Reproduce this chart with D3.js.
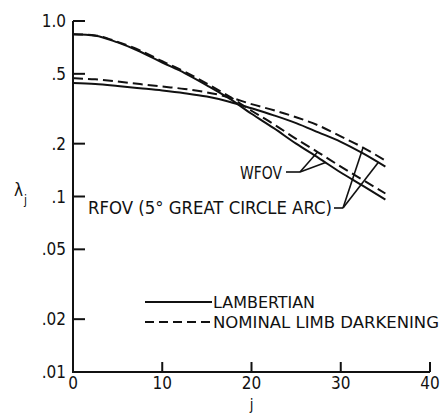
<!DOCTYPE html>
<html>
<head>
<meta charset="utf-8">
<script src="https://cdn.jsdelivr.net/npm/d3@7"></script>
<style>
  body { margin: 0; background: #fff; }
  text { font-family: "DejaVu Sans Condensed", "Liberation Sans Narrow", sans-serif; fill: #111; }
</style>
</head>
<body>
<div id="chart-area"></div>
<script>
// j values where the curves were read
var jValues = [0, 2.5, 5, 7.5, 10, 12.5, 15, 17.5, 20, 22.5, 25, 27.5, 30, 32.5, 35];

// WFOV (steep pair)
var wfovLambertian = [0.84, 0.825, 0.755, 0.67, 0.58, 0.505, 0.43, 0.362, 0.296, 0.245, 0.200, 0.166, 0.137, 0.115, 0.096];
var wfovLimb       = [0.84, 0.828, 0.76, 0.68, 0.59, 0.515, 0.44, 0.372, 0.308, 0.258, 0.213, 0.178, 0.148, 0.124, 0.104];

// RFOV (flat pair)
var rfovLambertian = [0.443, 0.437, 0.426, 0.414, 0.402, 0.388, 0.371, 0.347, 0.318, 0.29, 0.262, 0.232, 0.205, 0.176, 0.148];
var rfovLimb       = [0.472, 0.465, 0.452, 0.437, 0.423, 0.41, 0.392, 0.368, 0.336, 0.31, 0.283, 0.254, 0.22, 0.19, 0.16];

var xTicks = [0, 10, 20, 30, 40];
var yTicks = [1, 0.5, 0.2, 0.1, 0.05, 0.02, 0.01];
var yTickLabels = ["1.0", ".5", ".2", ".1", ".05", ".02", ".01"];

var width = 441, height = 416;

var svg = d3.select("#chart-area").append("svg")
    .attr("width", width)
    .attr("height", height);

var x = d3.scaleLinear().domain([0, 40]).range([73, 430]);
var y = d3.scaleLog().domain([0.01, 1]).range([372, 21]);

// axes
var axisG = svg.append("g").attr("stroke", "#111").attr("stroke-width", 2).attr("fill", "none");
axisG.append("path")
    .attr("d", "M" + x(0) + "," + y(1) + "V" + y(0.01) + "H" + x(40));

// y ticks, pointing inward
axisG.selectAll(".ytick")
    .data(yTicks.filter(function(d){ return d > 0.01; }))
  .enter().append("line")
    .attr("x1", x(0)).attr("x2", x(0) + 12)
    .attr("y1", function(d){ return y(d); })
    .attr("y2", function(d){ return y(d); });

// x ticks, pointing up
axisG.selectAll(".xtick")
    .data(xTicks.filter(function(d){ return d > 0; }))
  .enter().append("line")
    .attr("x1", function(d){ return x(d); })
    .attr("x2", function(d){ return x(d); })
    .attr("y1", y(0.01)).attr("y2", y(0.01) - 10);

svg.selectAll(".ylab")
    .data(yTicks)
  .enter().append("text")
    .attr("x", 66)
    .attr("y", function(d){ return y(d) + 6; })
    .attr("text-anchor", "end")
    .attr("font-size", "17px")
    .text(function(d, i){ return yTickLabels[i]; });

svg.selectAll(".xlab")
    .data(xTicks)
  .enter().append("text")
    .attr("x", function(d){ return x(d); })
    .attr("y", 389)
    .attr("text-anchor", "middle")
    .attr("font-size", "17px")
    .text(function(d){ return d; });

svg.append("text")
    .attr("x", x(20)).attr("y", 410)
    .attr("text-anchor", "middle")
    .attr("font-size", "15px")
    .text("j");

var yLabel = svg.append("text").attr("x", 14).attr("y", 196).attr("font-size", "17px").style("fill", "#111");
yLabel.append("tspan").style("fill", "#111").text("λ");
yLabel.append("tspan").style("fill", "#111").attr("font-size", "12px").attr("dy", 8).attr("dx", 1).text("j");

// curves
var line = d3.line()
    .x(function(d){ return x(d[0]); })
    .y(function(d){ return y(d[1]); })
    .curve(d3.curveMonotoneX);

function pairs(vals){ return jValues.map(function(j, i){ return [j, vals[i]]; }); }

var series = [
  {vals: wfovLambertian, dash: null},
  {vals: wfovLimb, dash: "10,5"},
  {vals: rfovLambertian, dash: null},
  {vals: rfovLimb, dash: "10,5"}
];

svg.selectAll(".curve")
    .data(series)
  .enter().append("path")
    .attr("fill", "none")
    .attr("stroke", "#111")
    .attr("stroke-width", 2)
    .attr("stroke-dasharray", function(d){ return d.dash; })
    .attr("d", function(d){ return line(pairs(d.vals)); });

// value on a series at j (log interpolation between read points)
function valueAt(vals, j){
  var i = d3.bisectRight(jValues, j) - 1;
  i = Math.max(0, Math.min(i, jValues.length - 2));
  var t = (j - jValues[i]) / (jValues[i + 1] - jValues[i]);
  return Math.exp(Math.log(vals[i]) * (1 - t) + Math.log(vals[i + 1]) * t);
}

// annotations
var ann = svg.append("g").attr("stroke", "#111").attr("stroke-width", 1.6).attr("fill", "none");

svg.append("text")
    .attr("x", 240).attr("y", 179)
    .attr("font-size", "17px")
    .attr("textLength", 42).attr("lengthAdjust", "spacingAndGlyphs")
    .text("WFOV");
var wStart = [286, 172], wMid = [300, 172];
ann.append("path").attr("d", "M" + wStart + "L" + wMid);
[[wfovLimb, 27.4], [wfovLambertian, 28.3]].forEach(function(a){
  ann.append("path").attr("d", "M" + wMid + "L" + x(a[1]) + "," + y(valueAt(a[0], a[1])));
});

svg.append("text")
    .attr("x", 88).attr("y", 214)
    .attr("font-size", "17px")
    .attr("textLength", 244).attr("lengthAdjust", "spacingAndGlyphs")
    .text("RFOV (5° GREAT CIRCLE ARC)");
var rStart = [334, 208], rMid = [343, 208];
ann.append("path").attr("d", "M" + rStart + "L" + rMid);
[[rfovLimb, 32.5], [rfovLambertian, 34.2]].forEach(function(a){
  ann.append("path").attr("d", "M" + rMid + "L" + x(a[1]) + "," + y(valueAt(a[0], a[1])));
});

// legend
var legend = [
  {label: "LAMBERTIAN", dash: null, y: 302, len: 102},
  {label: "NOMINAL LIMB DARKENING", dash: "9,5", y: 322, len: 226}
];
legend.forEach(function(d){
  svg.append("line")
      .attr("x1", 145).attr("x2", 212)
      .attr("y1", d.y).attr("y2", d.y)
      .attr("stroke", "#111").attr("stroke-width", 2)
      .attr("stroke-dasharray", d.dash);
  svg.append("text")
      .attr("x", 213).attr("y", d.y + 6)
      .attr("font-size", "16px")
      .attr("textLength", d.len).attr("lengthAdjust", "spacingAndGlyphs")
      .text(d.label);
});
</script>
</body>
</html>
